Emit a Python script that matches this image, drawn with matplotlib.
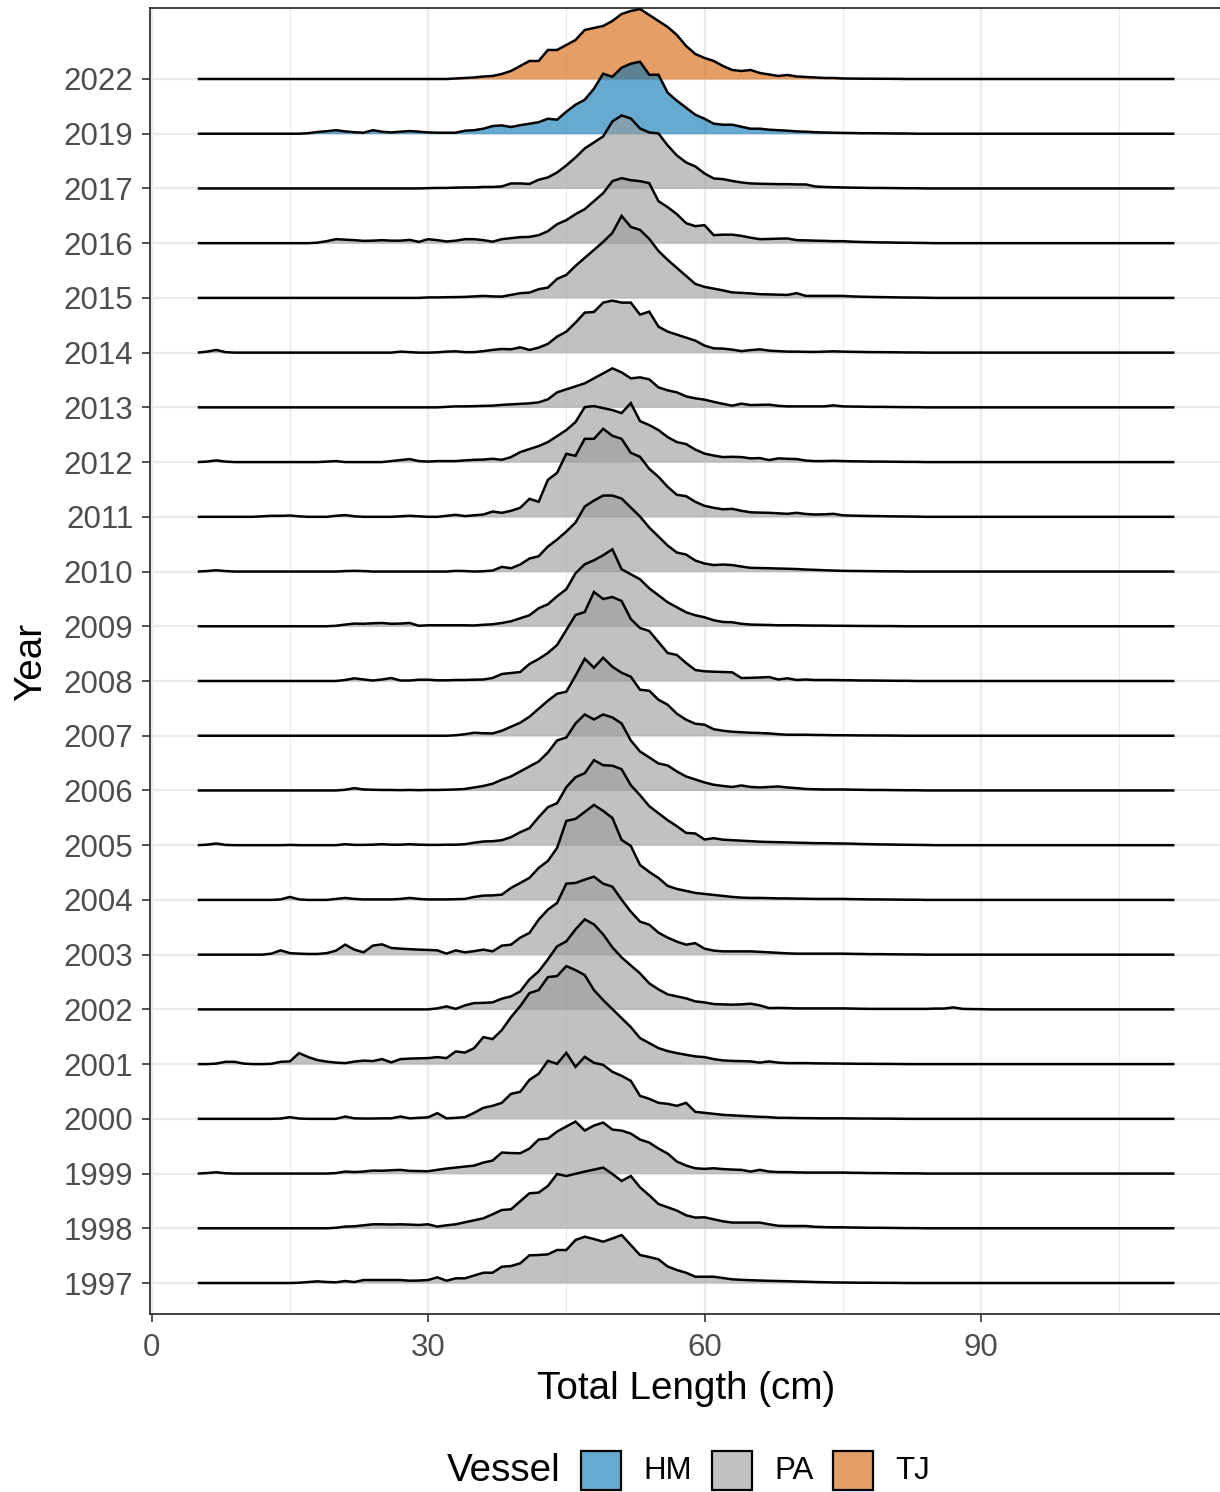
import numpy as np
import matplotlib.pyplot as plt
from matplotlib.patches import Rectangle

# length-frequency ridges, one per sampling year (heights read per 1 cm class)
years = [1997, 1998, 1999, 2000, 2001, 2002, 2003, 2004, 2005, 2006, 2007, 2008,
         2009, 2010, 2011, 2012, 2013, 2014, 2015, 2016, 2017, 2019, 2022]
vessel = ["PA"] * 21 + ["HM", "TJ"]

# first length class (cm) of each profile below
start_cm = [16, 20, 6, 14, 7, 31, 13, 14, 5, 21, 33, 21,
            20, 6, 12, 5, 32, 5, 30, 18, 30, 17, 33]

f1997 = [0.3, 1, 1.7, 1, 0.7, 2, 1, 3, 3, 3, 3, 3, 2.3, 2.5, 3, 5.7, 2.3, 4.7, 4.7, 7.5,
         10.3, 10.3, 16.3, 17, 19.7, 27.7, 28, 28.7, 33, 33, 43, 46.3, 44, 41.3, 44.5, 48,
         38, 28, 26, 23.7, 16.5, 13, 10.3, 6.3, 6.3, 6.3, 5, 3.7, 3.2, 2.8, 2.5, 2.2, 2,
         1.8, 1.5, 1.3, 1, 0.8, 0.6, 0.5, 0.4, 0.3, 0.3, 0.2, 0.2, 0.1]
f1998 = [0.5, 1.7, 2, 3, 4, 4, 3.8, 4, 3.7, 3.3, 4, 1.7, 3, 4, 6, 8, 10, 14, 18.3, 19,
         27, 35, 35.7, 42.3, 54.3, 52.3, 54.5, 56.7, 58.7, 60.7, 54.3, 47.3, 52.3, 41, 33,
         24.3, 21, 17.7, 13, 10.7, 11, 9, 7, 5.7, 5.7, 5.7, 5.7, 4, 2.5, 2.3, 2.3, 2.3,
         1.5, 1.2, 1, 1, 0.8, 0.7, 0.5, 0.5, 0.4, 0.3, 0.2, 0.2]
f1999 = [0.5, 1.3, 0.3] + [0] * 11 + [
         0.5, 2, 1.5, 2, 3, 2.8, 3.3, 3.7, 2.7, 2.5, 2.3, 3.7, 5, 6, 7, 8, 11, 13, 21,
         20.5, 20.3, 25, 34, 35, 42, 47, 52, 43, 48, 51, 44, 43, 40, 34, 31, 25, 20, 12, 8,
         5.3, 4.7, 5.3, 4.5, 4, 3.7, 2, 3.7, 2, 1.5, 1.5, 1.2, 1, 1, 1, 1, 1,
         0.8, 0.7, 0.5, 0.5, 0.4, 0.3, 0.2, 0.2]
f2000 = [0.3, 1.7, 0.3, 0, 0, 0, 0, 2.3, 0.5, 0.3, 0.3, 0.5, 0.5, 2.3, 0.5, 1, 1.5, 5.7,
         0.5, 1, 1.7, 6, 11, 13, 16, 25, 27, 39, 45, 58, 55, 66, 52, 62, 56, 54, 47, 43,
         38, 23, 20, 16, 15, 13, 16, 7, 6, 5, 4, 3.5, 3, 2.5, 2, 1.7, 1, 1, 0.8, 0.7, 0.6,
         0.5, 0.5, 0.5, 0.4, 0.3, 0.3, 0.2, 0.2, 0.1]
f2001 = [0.5, 2.3, 2.3, 0.5, 0, 0, 0.3, 2.3, 2.7, 11, 7, 4, 2.5, 1.5, 1, 2.5, 3.5, 3, 5,
         1.7, 5, 5.5, 5.8, 6, 7, 6, 12.7, 11.5, 16, 27, 25, 34, 47, 58, 71, 74, 87, 88, 98,
         94, 89, 74, 64, 55, 46, 37, 26, 21, 16, 13, 11, 9.3, 7.7, 7, 5, 3.7, 3.2, 3, 2.7,
         1.5, 2.7, 1.5, 1, 1, 1, 0.8, 0.7, 0.6, 0.5, 0.4, 0.3, 0.3, 0.2, 0.2, 0.1]
f2002 = [1, 3, 0.5, 4, 6.3, 6.5, 7, 10.7, 13, 18, 30, 38, 50, 63, 68, 80, 90, 85, 75, 62,
         52, 44, 36, 26, 20, 15, 13, 11, 8, 7, 5.3, 5, 4.7, 5, 5.7, 4, 1.3, 1.5, 1.3, 1,
         1, 1, 1, 1, 1, 0.8, 0.6, 0.5, 0.5, 0.5, 0.5, 0.5, 0.5, 0.5, 0.8, 0.8, 2, 0.5,
         0.3, 0.2]
f2003 = [1, 4.3, 1.5, 1, 0.7, 0.7, 1.5, 4, 10, 5, 2.3, 9, 10.3, 6.7, 6, 5.5, 5, 4.7, 4.3,
         1, 4.3, 2.3, 3.5, 5, 3.3, 9, 10, 17, 21.7, 35, 45, 51.7, 71, 71.7, 75, 78, 71, 68,
         55, 43, 33, 30, 22, 17, 13, 10, 11.5, 6, 4, 3.3, 3.3, 3.3, 3.3, 2.8, 2.3, 1.8,
         1.3, 1, 1, 1, 1, 1, 1, 0.8, 0.7, 0.5, 0.5, 0.4, 0.3, 0.2, 0.2]
f2004 = [0.5, 3, 0.5, 0, 0, 0, 1, 2, 1, 0.5, 0.5, 0.5, 0.5, 1, 2, 1, 0.5, 0.5, 0.5, 0.7,
         1, 3, 4.3, 4.5, 5.3, 12, 17, 22, 32, 39, 52, 79, 81, 88, 95, 89, 82, 60, 54, 35,
         28, 22, 14, 11, 9, 7, 6, 5, 4, 3, 2.3, 2, 2, 1.8, 1.5, 1.5, 1.3, 1.2, 1, 1, 1, 1,
         0.8, 0.7, 0.5, 0.5, 0.4, 0.3, 0.2, 0.2]
f2005 = [0, 0.5, 1.7, 0.3] + [0] * 6 + [0.3] + [0] * 5 + [
         1, 0.3, 0.3, 0.5, 1, 0.5, 0.5, 1, 0.5, 0.3, 0.3, 0.5, 0.5, 1, 2.5, 3.7, 4, 5, 8,
         13, 17, 28, 38, 42, 58, 68, 72, 85, 80, 79.5, 76, 60, 50, 39, 32, 25, 19, 12.3,
         11.7, 5.7, 7, 5.5, 5, 4.5, 4, 3.5, 3.2, 3, 2.8, 2.5, 2.3, 2, 2, 1.8, 1.7,
         1.5, 1.2, 1, 0.8, 0.7, 0.5, 0.4, 0.3, 0.2]
f2006 = [0.7, 2.3, 1, 0.7, 0.5, 0.5, 0.3, 0.5, 0.3, 0.5, 0.5, 0.7, 1, 1.5, 3, 4.5, 6.7,
         10.7, 14, 19, 24, 29, 38, 50, 53, 67, 76, 71, 76, 73, 67, 50, 39, 33, 27, 25, 19,
         14, 11, 8, 5.7, 4.5, 3.5, 5, 3.5, 3, 3.5, 4, 3, 2.3, 1.5, 1.2, 1, 1, 1,
         0.8, 0.7, 0.5, 0.5, 0.4, 0.3, 0.2, 0.2]
f2007 = [0.5, 1.5, 3, 2.5, 2.3, 5, 9, 13, 19, 27, 35, 42, 44, 60, 77, 68, 78, 69, 63, 59,
         46, 45, 36, 31, 22, 16, 12, 11, 6.5, 5, 4, 3.5, 3, 2.7, 2.3, 1.5, 1, 1, 1, 0.8,
         0.7, 0.5, 0.5, 0.4, 0.3, 0.3, 0.2, 0.2, 0.1]
f2008 = [1, 2.7, 1.5, 0.5, 1.5, 3, 0.5, 0.5, 1.3, 1.3, 0.7, 0.7, 1, 1, 1.3, 1.5, 3, 7, 8,
         9, 17, 22, 28, 36, 51, 66, 69, 89, 82, 84, 80, 62, 53, 50, 39, 28, 26, 18, 11, 9.7,
         9.3, 9, 8.7, 3, 3.2, 3.5, 4, 1.5, 2.7, 1, 1.5, 1, 1, 1, 0.8,
         0.7, 0.5, 0.5, 0.4, 0.3, 0.2, 0.2]
f2009 = [0.5, 1.7, 2.7, 2.5, 3, 3.3, 2.5, 2.7, 3.3, 0.5, 1, 1, 1, 1, 1, 0.8, 1.5, 2, 3.3,
         5, 8, 11, 18, 22, 30, 37, 53, 62, 66, 71, 77, 57, 52, 47, 38, 31, 24, 19, 14, 11,
         9, 6, 4.3, 4, 2.5, 1.7, 1.5, 1.3, 1, 1, 1, 0.8, 0.7, 0.7, 0.5, 0.5,
         0.4, 0.3, 0.3, 0.2, 0.2, 0.1]
f2010 = [0.5, 1.3, 0.5] + [0] * 12 + [0.5, 0.7, 0.5] + [0] * 9 + [
         0.7, 0.5, 0, 0.3, 1, 4.7, 3.3, 7, 13, 15.3, 25, 32, 40, 49, 65, 71, 76, 76, 73,
         64, 55, 44, 35, 26, 19, 17, 11, 8, 6.5, 7, 6.5, 5, 3.7, 3.5, 3.3, 3, 2.8, 2.5, 2,
         1.7, 1.3, 1, 0.7, 0.6, 0.5, 0.4, 0.3, 0.2, 0.2]
f2011 = [0.5, 1, 1, 1.3, 0.5, 0, 0, 0, 1, 1.7, 0.5, 0, 0, 0, 0, 0.5, 1, 0.5, 0, 0, 1, 2,
         0.7, 1.5, 2.3, 5.3, 4, 6, 9, 18, 15, 37, 44, 63, 61, 78, 78, 88, 81, 78, 64, 60,
         48, 40, 30, 22, 20.7, 15, 11, 9, 7.5, 8, 6, 4.5, 4.2, 4, 3.5, 3, 4, 2.8, 2.3, 2.5,
         3, 1.5, 1.2, 1, 0.8, 0.7, 0.5, 0.4, 0.3, 0.2]
f2012 = [0, 0.5, 1.7, 0.5] + [0] * 10 + [0.5, 1] + [0] * 5 + [
         1, 2, 3, 1, 0.5, 1, 1, 1, 1.7, 2.3, 2.5, 3.3, 2.3, 5, 10, 13, 16, 20, 26, 32, 40,
         55, 56, 54, 52, 49, 59, 41, 37, 32, 25, 20, 18, 12.5, 8.5, 6.5, 5, 5.3, 5, 3.7, 4,
         2, 3.7, 3.3, 3, 1.5, 1, 1, 1.3, 1, 0.8, 0.7, 0.5, 0.5, 0.4, 0.3, 0.2, 0.2]
f2013 = [0.5, 1, 1, 1.2, 1.5, 1.7, 2.5, 3, 3.5, 4, 5, 8, 15, 18, 21, 24, 29, 34, 39, 35,
         29, 30, 28, 20, 17, 15, 11, 9, 7.7, 5.5, 3.5, 1.7, 3.7, 2.3, 2.5, 2.7, 1.5, 1, 1,
         1, 1, 1, 2, 1, 0.8, 0.7, 0.5, 0.5, 0.4, 0.3, 0.2, 0.2]
f2014 = [0, 1, 2.7, 0.5] + [0] * 18 + [
         1, 0.5, 0, 0, 0.3, 1, 1.3, 0.5, 0.5, 1.5, 2.7, 3.7, 3.3, 5.3, 2.7, 5, 8.7, 16, 21,
         30, 40, 40.7, 50, 52, 50, 50, 38, 41, 26, 21, 18, 15, 12, 7, 4.3, 4, 3, 1.5, 2.5,
         3.3, 2, 1.5, 1, 1, 0.8, 0.7, 1, 1.3, 1, 0.8, 0.7, 0.5, 0.5, 0.4, 0.3, 0.2, 0.2]
f2015 = [0.5, 0.5, 0.7, 0.8, 1, 1.5, 2, 1.5, 1.3, 3, 4.7, 5.3, 8.7, 10.3, 19, 23, 32, 40,
         48, 56, 65, 82, 71, 68, 59, 47, 38, 30, 22, 14, 11, 9.3, 7.5, 5.5, 5, 4.5, 3.7,
         3.5, 3.2, 3, 4.7, 2, 2, 2, 2, 2, 1.5, 1.2, 1, 0.8, 0.7, 0.5, 0.4, 0.3, 0.2]
f2016 = [0.5, 2, 4, 3.5, 3, 2.3, 2.5, 3, 2.5, 2.5, 3.3, 1.3, 4, 3, 1.7, 2.5, 4, 4, 3, 1.5,
         4, 5, 6, 6.3, 8, 12, 19, 23, 29, 34, 42, 50, 62, 65, 63, 62, 60, 42, 36, 29, 20,
         17, 18, 8, 8.5, 8.5, 7.3, 5.5, 4, 4.2, 4.5, 4.7, 3, 2.8, 2.5, 2.3, 2, 2,
         1.5, 1.2, 1, 0.8, 0.7, 0.5, 0.4, 0.3, 0.2]
f2017 = [0.3, 0.5, 0.5, 0.8, 1, 1, 1.5, 1.5, 2, 5, 5, 4.5, 8.7, 11, 16, 23, 31, 40, 46, 52,
         67, 73, 70, 60, 56, 55, 43, 33, 26, 22, 15, 10, 9.3, 7.5, 6, 5, 4.7, 4.5, 4.3, 4.3,
         4, 4, 2, 1.5, 1.2, 1, 0.8, 0.7, 0.5, 0.5, 0.4, 0.3, 0.2, 0.2]
f2019 = [0.5, 1.7, 2.5, 3.5, 2.3, 1.5, 1, 3.5, 2, 1.3, 2, 2.7, 2, 1.3, 1, 1, 1, 3, 3.5, 5,
         7.7, 8.3, 6.7, 8.5, 10, 11.5, 15, 14, 22, 29, 34, 45, 60, 57, 66, 70, 72, 59, 59,
         41, 33, 26, 19, 15, 10, 9, 9, 7, 5, 5, 4, 3.5, 3, 2.3, 2, 1.5, 1.2, 1, 0.8,
         0.7, 0.5, 0.5, 0.4, 0.3, 0.2, 0.2]
f2022 = [0.5, 1, 1.5, 2.5, 3, 5, 8, 13, 18, 18, 29, 29, 34, 39, 49, 51, 53, 58, 65, 68, 70,
         64, 58, 52, 44, 33, 25, 21, 18, 13, 9, 8, 9, 6, 4.5, 3, 4, 2.5, 2, 1.5, 1, 1, 0.5,
         0.4, 0.3, 0.3, 0.2, 0.2, 0.1]

profiles = [f1997, f1998, f1999, f2000, f2001, f2002, f2003, f2004, f2005, f2006, f2007,
            f2008, f2009, f2010, f2011, f2012, f2013, f2014, f2015, f2016, f2017, f2019,
            f2022]

vessel_names = ["HM", "PA", "TJ"]
vessel_colors = {"HM": "#0072B2", "PA": "#999999", "TJ": "#D55E00"}

lengths = np.arange(5, 112)          # 1 cm classes, 5 to 111 cm
row_scale = 1 / 54.73                # ridge height units per row step

plt.rcParams["font.family"] = ["Liberation Sans", "DejaVu Sans"]

W, H = 1220, 1492
fig = plt.figure(figsize=(W / 100, H / 100), dpi=100)
ax = fig.add_axes([150 / W, 1 - 1314 / H, (1222 - 150) / W, (1314 - 8) / H])

# panel grid like theme_bw
for x in [15, 45, 75, 105]:
    ax.axvline(x, color="#EBEBEB", lw=0.9, zorder=0)
for x in [0, 30, 60, 90]:
    ax.axvline(x, color="#EBEBEB", lw=1.7, zorder=0)
for i in range(len(years)):
    ax.axhline(i, color="#EBEBEB", lw=1.7, zorder=0)

# draw from the top row down so lower ridges sit in front
for i in reversed(range(len(years))):
    h = np.zeros(len(lengths))
    vals = np.array(profiles[i], dtype=float)
    s = start_cm[i] - lengths[0]
    h[s:s + len(vals)] = vals
    top = i + h * row_scale
    z = 2 + 2 * (len(years) - i)
    ax.fill_between(lengths, i, top, color=vessel_colors[vessel[i]], alpha=0.6,
                    lw=0, zorder=z)
    ax.plot(lengths, top, color="black", lw=1.8, zorder=z + 1,
            solid_joinstyle="miter", solid_capstyle="butt")

ax.set_xlim(-0.18, 116.16)
ax.set_ylim(-0.566, 23.297)
ax.set_xticks([0, 30, 60, 90])
ax.set_yticks(range(len(years)))
ax.set_yticklabels([str(y) for y in years])
ax.tick_params(axis="both", labelsize=22.5, labelcolor="#4D4D4D", color="#333333",
               length=6, width=1.2)
ax.tick_params(axis="x", pad=8)
ax.tick_params(axis="y", pad=6)
for sp in ax.spines.values():
    sp.set_color("#333333")
    sp.set_linewidth(1.3)

fig.text(686 / W, 1 - 1399 / H, "Total Length (cm)", fontsize=27.8, ha="center",
         va="baseline")
fig.text(31 / W, 1 - 662 / H, "Year", fontsize=27.8, ha="center", va="center",
         rotation=90)

# legend along the bottom
ly = 1 - 1471 / H
fig.text(447 / W, ly, "Vessel", fontsize=27.8, ha="left", va="center")
key_x = [581, 712, 833]
for name, kx in zip(vessel_names, key_x):
    fig.add_artist(Rectangle((kx / W, 1 - 1490 / H), 40 / W, 39 / H,
                             transform=fig.transFigure, facecolor=vessel_colors[name],
                             alpha=0.6, lw=0))
    fig.add_artist(Rectangle((kx / W, 1 - 1490 / H), 40 / W, 39 / H,
                             transform=fig.transFigure, facecolor="none",
                             edgecolor="black", lw=1.6))
    fig.text((kx + 62) / W, ly, name, fontsize=22.5, ha="left", va="center")

fig.savefig("out.png", dpi=100)
